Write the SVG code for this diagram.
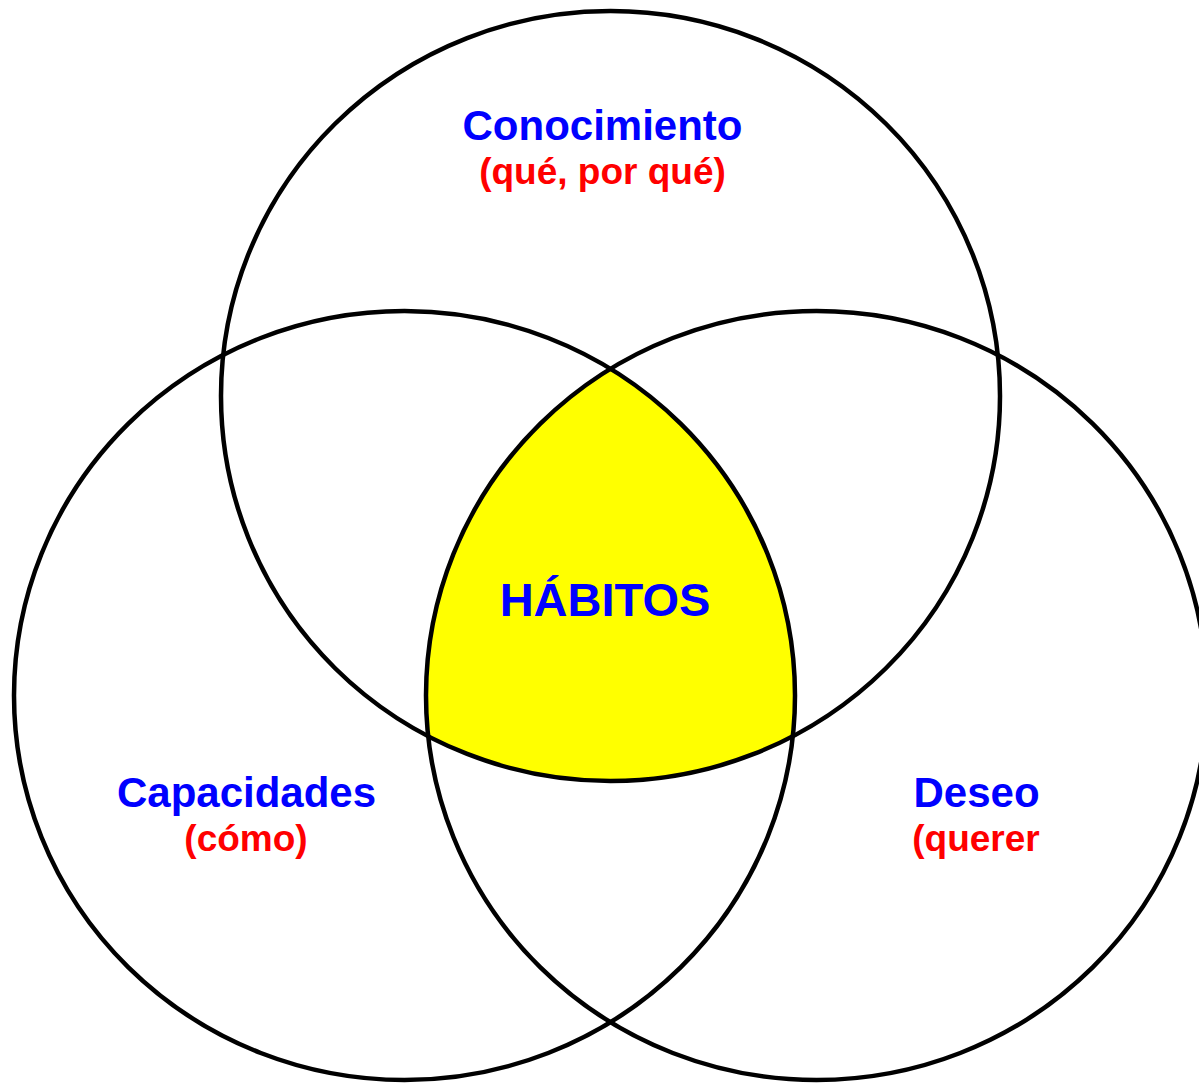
<svg xmlns="http://www.w3.org/2000/svg" width="1199" height="1085" viewBox="0 0 1199 1085">
<style>
.c{fill:none;stroke:#000;stroke-width:4.5}
.t{font-family:"Liberation Sans",Arial,sans-serif;font-weight:bold;text-anchor:middle}
.b{fill:#0000FF}
.r{fill:#FF0000}
</style>
<defs>
<clipPath id="clipL"><ellipse cx="404.5" cy="695.5" rx="390.5" ry="384.5"/></clipPath>
<clipPath id="clipR"><ellipse cx="816.5" cy="695.5" rx="390.5" ry="384.5"/></clipPath>
</defs>
<rect width="1199" height="1085" fill="#fff"/>
<g id="habitos-region" clip-path="url(#clipL)">
<g clip-path="url(#clipR)">
<ellipse cx="610.5" cy="396" rx="389.5" ry="385" fill="#FFFF00"/>
</g>
</g>
<g id="conocimiento">
<ellipse class="c" cx="610.5" cy="396" rx="389.5" ry="385"/>
<text class="t b" x="602.5" y="140" font-size="42">Conocimiento</text>
<text class="t r" x="602.5" y="184" font-size="37">(qué, por qué)</text>
</g>
<g id="capacidades">
<ellipse class="c" cx="404.5" cy="695.5" rx="390.5" ry="384.5"/>
<text class="t b" x="246.5" y="807" font-size="42">Capacidades</text>
<text class="t r" x="246" y="851" font-size="37">(cómo)</text>
</g>
<g id="deseo">
<ellipse class="c" cx="816.5" cy="695.5" rx="390.5" ry="384.5"/>
<text class="t b" x="976.5" y="807" font-size="42">Deseo</text>
<text class="t r" x="976" y="851" font-size="37">(querer</text>
</g>
<g id="habitos">
<text class="t b" x="605" y="616" font-size="47">HÁBITOS</text>
</g>
<g id="connectors"/>
</svg>
